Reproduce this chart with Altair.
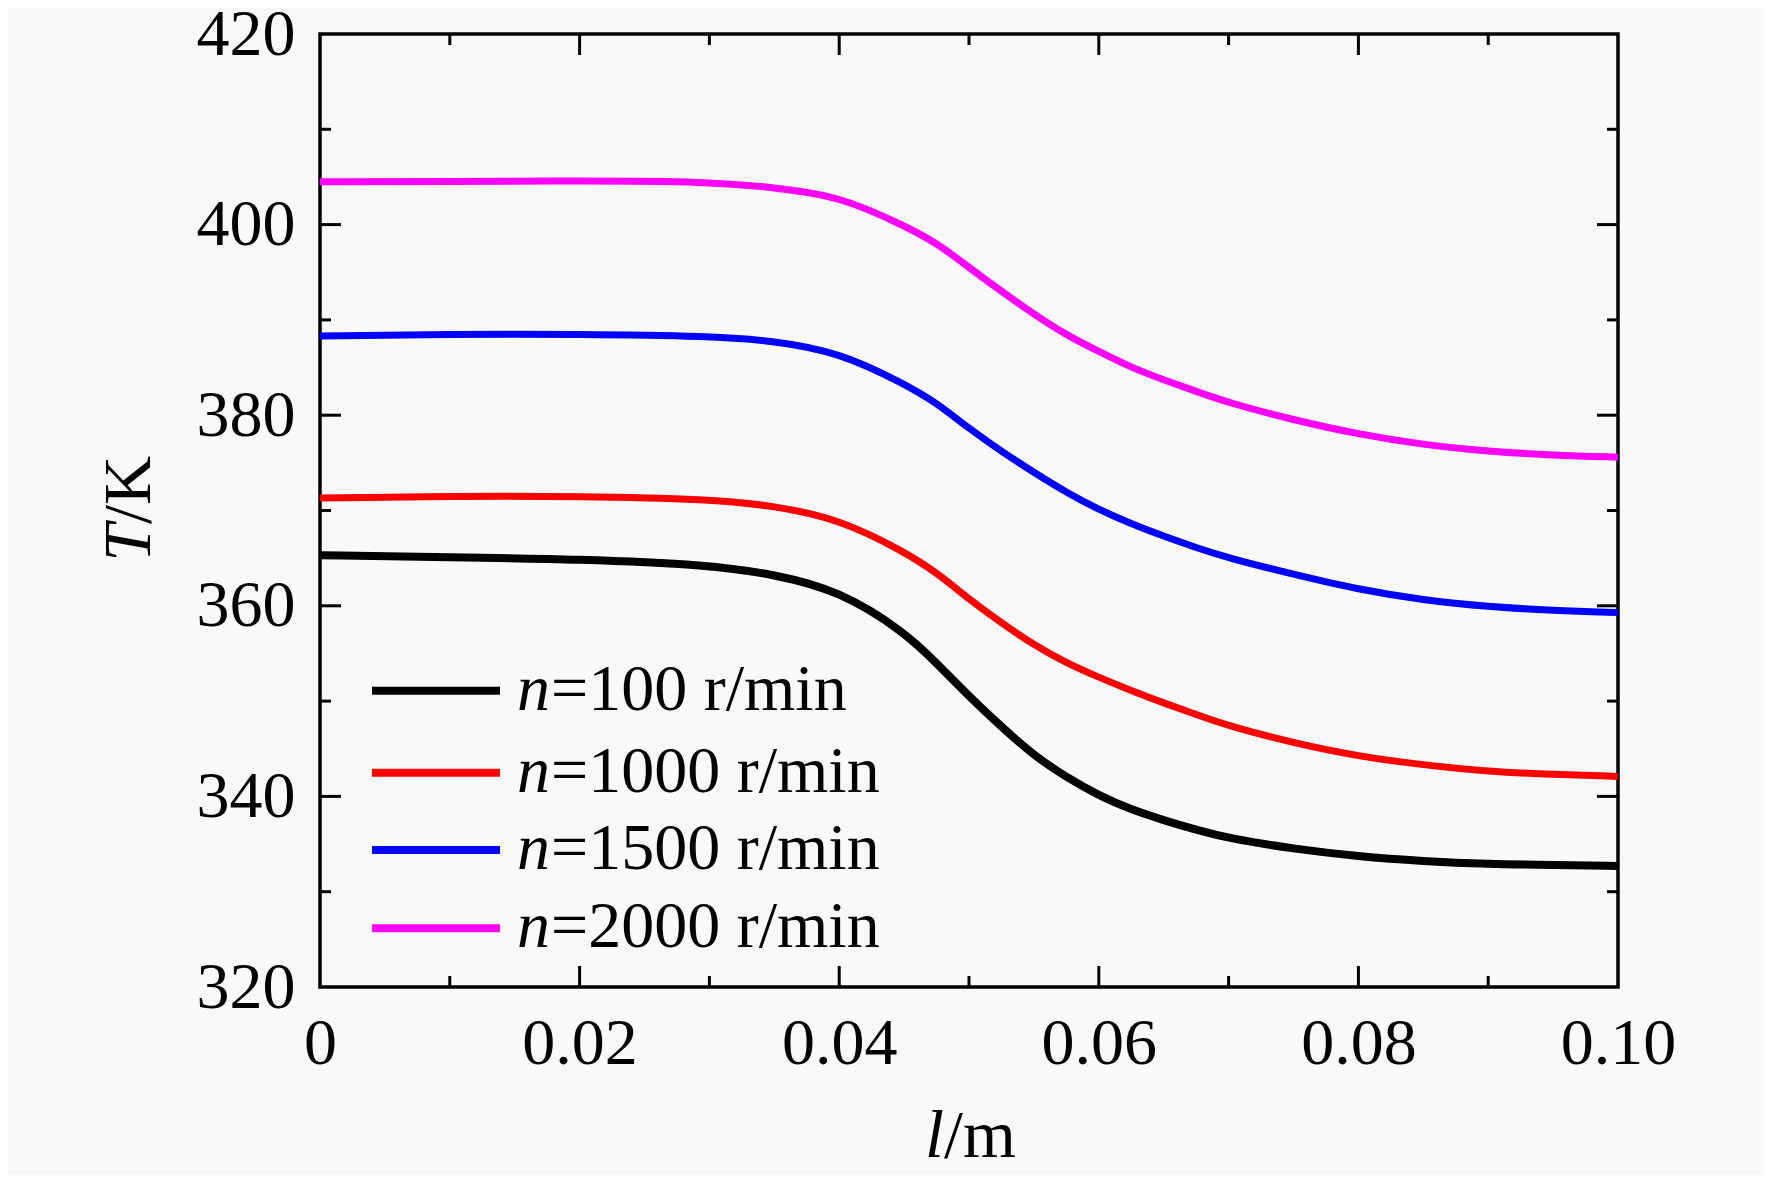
import altair as alt
import pandas as pd

# ---- data ----
L = [0, 0.01, 0.02, 0.03, 0.035, 0.04, 0.045, 0.0475, 0.05, 0.0525, 0.055, 0.0575,
     0.06, 0.0625, 0.065, 0.0675, 0.07, 0.075, 0.08, 0.085, 0.09, 0.095, 0.1]
T_100 = [365.3, 365.1, 364.9, 364.3, 363.3, 361.6, 357.3, 354.0, 350.5, 347.3, 344.3, 342.0,
         340.1, 338.6, 337.5, 336.5, 335.6, 334.5, 333.7, 333.2, 332.9, 332.8, 332.7]
T_1000 = [371.3, 371.5, 371.5, 371.2, 370.5, 369.1, 365.7, 363.5, 360.7, 358.2, 355.9, 354.0,
          352.5, 351.1, 349.8, 348.6, 347.4, 345.6, 344.2, 343.3, 342.6, 342.3, 342.1]
T_1500 = [388.3, 388.5, 388.5, 388.3, 387.8, 386.6, 383.3, 381.3, 378.6, 376.2, 374.0, 371.9,
          370.1, 368.6, 367.3, 366.1, 365.0, 363.3, 361.7, 360.6, 359.9, 359.5, 359.3]
T_2000 = [404.5, 404.5, 404.6, 404.5, 403.9, 403.0, 399.9, 398.1, 395.5, 393.0, 390.6, 388.4,
          386.7, 385.0, 383.7, 382.5, 381.3, 379.5, 378.0, 376.9, 376.2, 375.8, 375.6]

series_labels = ["=100 r/min", "=1000 r/min", "=1500 r/min", "=2000 r/min"]
series_values = [T_100, T_1000, T_1500, T_2000]
series_colors = ["#000000", "#ff0000", "#0000ff", "#ff00ff"]
series_widths = [8, 7, 7, 7]

x_label_values = [0, 0.02, 0.04, 0.06, 0.08, 0.10]
y_label_values = [320, 340, 360, 380, 400, 420]
x_major = [0.02, 0.04, 0.06, 0.08]
x_minor = [0.01, 0.03, 0.05, 0.07, 0.09]
y_major = [340, 360, 380, 400]
y_minor = [330, 350, 370, 390, 410]

W, H = 1298, 953
FONT = "Liberation Serif"
FS = 66
MAJ, MIN = 21, 11

xs = alt.Scale(domain=[0, 0.1], nice=False, zero=False)
ys = alt.Scale(domain=[320, 420], nice=False, zero=False)
xaxis = alt.Axis(values=x_label_values, title=None, grid=False, domain=False, ticks=False,
                 labelExpr="datum.value == 0 ? '0' : format(datum.value, '.2f')",
                 labelFont=FONT, labelFontSize=FS, labelColor="black",
                 labelBaseline="alphabetic", labelPadding=76, labelFlush=False,
                 labelOverlap=False, labelBound=False)
yaxis = alt.Axis(values=y_label_values, title=None, grid=False, domain=False, ticks=False,
                 format="d", labelFont=FONT, labelFontSize=FS, labelColor="black",
                 labelBaseline="middle", labelPadding=25, labelOverlap=False)


def X(field):
    return alt.X(f"{field}:Q", scale=xs, axis=xaxis)


def Y(field):
    return alt.Y(f"{field}:Q", scale=ys, axis=yaxis)


layers = []
for vals, col, sw in zip(series_values, series_colors, series_widths):
    df = pd.DataFrame({"l": L, "T": vals})
    layers.append(alt.Chart(df).mark_line(color=col, strokeWidth=sw, interpolate="basis")
                  .encode(x=X("l"), y=Y("T")))

# inward ticks on all four sides
for vals, ln in ((x_major, MAJ), (x_minor, MIN)):
    d = pd.DataFrame({"l": vals})
    layers.append(alt.Chart(d).mark_rule(color="black", strokeWidth=3)
                  .encode(x=X("l"), y=alt.value(H), y2=alt.value(H - ln)))
    layers.append(alt.Chart(d).mark_rule(color="black", strokeWidth=3)
                  .encode(x=X("l"), y=alt.value(0), y2=alt.value(ln)))
for vals, ln in ((y_major, MAJ), (y_minor, MIN)):
    d = pd.DataFrame({"T": vals})
    layers.append(alt.Chart(d).mark_rule(color="black", strokeWidth=3)
                  .encode(y=Y("T"), x=alt.value(0), x2=alt.value(ln)))
    layers.append(alt.Chart(d).mark_rule(color="black", strokeWidth=3)
                  .encode(y=Y("T"), x=alt.value(W), x2=alt.value(W - ln)))

one = pd.DataFrame({"a": [0]})

# custom legend (italic n + regular rest)
row_y = [656.7, 738.7, 816.0, 894.3]
for lab, col, ry in zip(series_labels, series_colors, row_y):
    layers.append(alt.Chart(one).mark_rule(color=col, strokeWidth=8)
                  .encode(x=alt.value(52), x2=alt.value(180), y=alt.value(ry)))
    layers.append(alt.Chart(one).mark_text(text="n", font=FONT, fontSize=FS, fontStyle="italic",
                                           align="left", baseline="alphabetic", color="black")
                  .encode(x=alt.value(197), y=alt.value(ry + 19)))
    layers.append(alt.Chart(one).mark_text(text=lab, font=FONT, fontSize=FS,
                                           align="left", baseline="alphabetic", color="black")
                  .encode(x=alt.value(231), y=alt.value(ry + 19)))

# axis titles with italic symbols
layers.append(alt.Chart(one).mark_text(text="l", font=FONT, fontSize=68, fontStyle="italic",
                                       align="right", baseline="alphabetic", color="black")
              .encode(x=alt.value(624), y=alt.value(1123)))
layers.append(alt.Chart(one).mark_text(text="/m", font=FONT, fontSize=68,
                                       align="left", baseline="alphabetic", color="black")
              .encode(x=alt.value(624), y=alt.value(1123)))
layers.append(alt.Chart(one).mark_text(text="T", font=FONT, fontSize=68, fontStyle="italic", angle=270,
                                       align="right", baseline="alphabetic", color="black")
              .encode(x=alt.value(-170), y=alt.value(490)))
layers.append(alt.Chart(one).mark_text(text="/K", font=FONT, fontSize=68, angle=270,
                                       align="left", baseline="alphabetic", color="black")
              .encode(x=alt.value(-170), y=alt.value(490)))

chart = (alt.layer(*layers)
         .properties(width=W, height=H,
                     autosize=alt.AutoSizeParams(type="none"),
                     padding={"left": 312, "top": 26, "right": 146, "bottom": 188},
                     background="#f9f9f9")
         .configure_view(stroke="black", strokeWidth=3.5))

chart.save("out.html", embed_options={"renderer": "svg", "actions": False})
